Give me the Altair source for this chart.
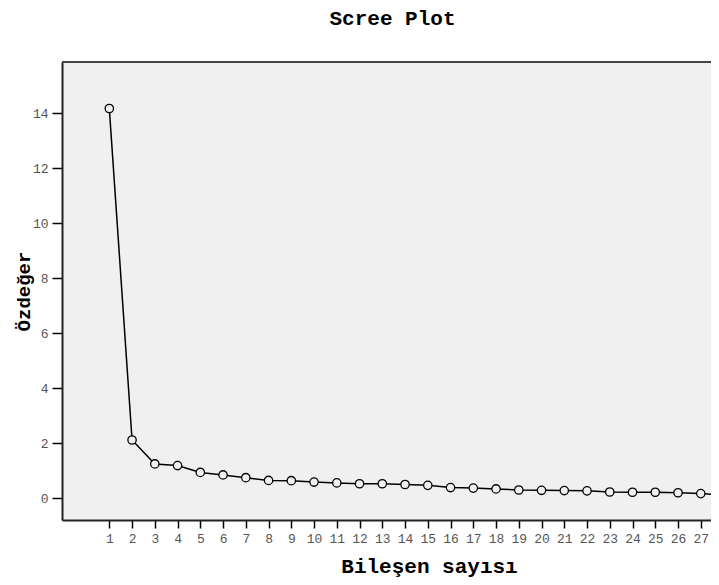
import altair as alt
import pandas as pd

components = list(range(1, 29))
eigenvalues = [14.18, 2.12, 1.25, 1.19, 0.94, 0.85, 0.75, 0.65, 0.64, 0.59,
               0.56, 0.53, 0.53, 0.50, 0.47, 0.39, 0.37, 0.34, 0.30, 0.29,
               0.28, 0.27, 0.23, 0.22, 0.22, 0.20, 0.17, 0.12]
y_ticks = [0, 2, 4, 6, 8, 10, 12, 14]

df = pd.DataFrame({"comp": components, "eig": eigenvalues})

FONT = "Liberation Mono"
BG = "#f0f0f0"
W, H = 649, 458

x_enc = alt.X("comp:Q",
              scale=alt.Scale(domain=[-1.08, 27.45], nice=False, zero=False),
              axis=alt.Axis(values=components[:27], title="Bileşen sayısı",
                            format="d", grid=False, domain=True,
                            domainColor="#222", domainWidth=2,
                            tickColor="black", tickWidth=1.5, tickSize=8,
                            labelFont=FONT, labelFontSize=13, labelColor="#555",
                            labelPadding=4, labelFlush=False, labelOverlap=False,
                            titleFont=FONT, titleFontSize=21, titleFontWeight="bold",
                            titleColor="black", titleX=367, titleY=46,
                            titleAlign="center", titleBaseline="middle"))
y_enc = alt.Y("eig:Q",
              scale=alt.Scale(domain=[-0.79, 15.87], nice=False, zero=False),
              axis=alt.Axis(values=y_ticks, title="Özdeğer", grid=False,
                            domain=True, domainColor="#222", domainWidth=2,
                            tickColor="black", tickWidth=1.5,
                            tickSize=10, labelFont=FONT, labelFontSize=13,
                            labelColor="#555", labelPadding=4,
                            titleFont=FONT, titleFontSize=19, titleFontWeight="bold",
                            titleColor="black", titleX=-39, titleY=229,
                            titleAngle=270, titleAlign="center",
                            titleBaseline="middle"))

top_border = alt.Chart(df).mark_rule(color="#444", strokeWidth=2).encode(
    x=alt.value(0), x2=alt.value(W), y=alt.value(0))

line = alt.Chart(df).mark_line(color="black", strokeWidth=1.5, clip=True).encode(x=x_enc, y=y_enc)
pts = alt.Chart(df).mark_point(shape="circle", size=70, filled=False, fill=BG,
                               fillOpacity=1, stroke="black", strokeWidth=1.3,
                               opacity=1, clip=True).encode(x=x_enc, y=y_enc)

chart = (line + pts + top_border).properties(
    width=W, height=H,
    title=alt.TitleParams("Scree Plot", font=FONT, fontSize=21, fontWeight="bold",
                          color="black", anchor="middle", frame="group",
                          dx=6, offset=32),
    autosize=alt.AutoSizeParams(type="none"),
    padding={"left": 54, "top": 54, "right": 0, "bottom": 57},
    background="white",
).configure_view(fill=BG, strokeWidth=0)

chart.save("out.html", embed_options={"renderer": "svg", "actions": False})
